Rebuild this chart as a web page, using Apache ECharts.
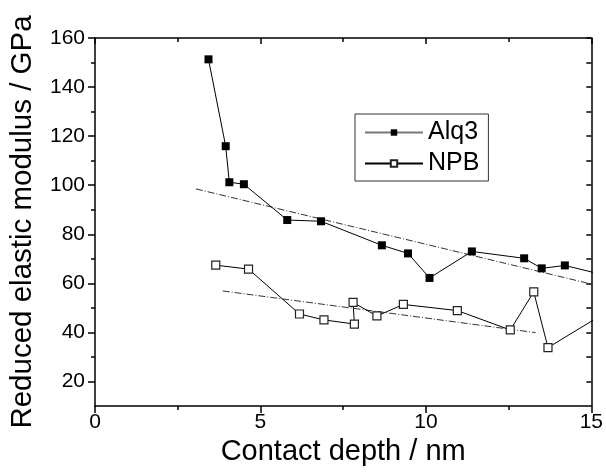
<!DOCTYPE html>
<html>
<head>
<meta charset="utf-8">
<script src="https://cdn.jsdelivr.net/npm/echarts@6/dist/echarts.min.js"></script>
<style>
html,body{margin:0;padding:0;background:#fff;}
#chart{width:606px;height:473px;}
</style>
</head>
<body>
<div id="chart"></div>
<script>
// Data
const alq3Depth = [3.43, 3.95, 4.06, 4.50, 5.81, 6.83, 8.67, 9.46, 10.11, 11.39, 12.97, 13.50, 14.20, 15.5];
const alq3Modulus = [151.3, 115.9, 101.2, 100.4, 85.8, 85.3, 75.5, 72.2, 62.2, 73.0, 70.2, 66.1, 67.3, 63.0];
const npbDepth = [3.65, 4.64, 6.18, 6.92, 7.84, 7.80, 8.52, 9.32, 10.95, 12.55, 13.26, 13.69, 15.3];
const npbModulus = [67.4, 65.8, 47.5, 45.1, 43.4, 52.2, 46.7, 51.4, 48.9, 41.0, 56.5, 33.8, 47.0];
const alq3FitDepth = [3.05, 15.0];
const alq3FitModulus = [98.5, 59.7];
const npbFitDepth = [3.86, 13.32];
const npbFitModulus = [56.9, 39.9];
const seriesNames = ['Alq3', 'NPB'];
const yTickLabels = [20, 40, 60, 80, 100, 120, 140, 160];
const yMinorTicks = [30, 50, 70, 90, 110, 130, 150];
const xTitle = 'Contact depth / nm';
const yTitle = 'Reduced elastic modulus / GPa';

const zip = (a, b) => a.map((v, i) => [v, b[i]]);
const FONT = 'Liberation Sans, Arial, sans-serif';
const axisLineStyle = { color: '#000', width: 1.5 };
const tickLine = { color: '#000', width: 1.5 };

const chart = echarts.init(document.getElementById('chart'), null, { renderer: 'canvas' });
chart.setOption({
  animation: false,
  backgroundColor: '#fff',
  grid: { left: 93, right: 13, top: 38, bottom: 67, containLabel: false },
  legend: {
    data: [
      { name: seriesNames[0], lineStyle: { color: '#777' } },
      { name: seriesNames[1] }
    ],
    orient: 'vertical',
    left: 355,
    top: 114,
    padding: [6, 9, 5, 9],
    itemGap: 6,
    itemWidth: 58,
    itemHeight: 8,
    borderColor: '#333',
    borderWidth: 1,
    textStyle: { fontFamily: FONT, fontSize: 25, color: '#000' }
  },
  xAxis: [{
    type: 'value', min: 0, max: 15, interval: 5,
    name: xTitle, nameLocation: 'middle', nameGap: 31,
    nameTextStyle: { fontFamily: FONT, fontSize: 29, color: '#000' },
    axisLine: { show: true, onZero: false, lineStyle: axisLineStyle },
    axisTick: { show: true, inside: false, length: 7, lineStyle: tickLine },
    minorTick: { show: true, splitNumber: 2, length: 4, lineStyle: tickLine },
    axisLabel: { fontFamily: FONT, fontSize: 21, color: '#000', margin: 6 },
    splitLine: { show: false }
  }, {
    type: 'value', min: 0, max: 15, interval: 5, position: 'top',
    axisLine: { show: true, onZero: false, lineStyle: axisLineStyle },
    axisTick: { show: true, inside: true, length: 6, lineStyle: tickLine },
    minorTick: { show: true, splitNumber: 2, length: 4, lineStyle: tickLine },
    axisLabel: { show: false },
    splitLine: { show: false }
  }],
  yAxis: [{
    type: 'value', min: 10, max: 160, interval: 10,
    name: yTitle, nameLocation: 'middle', nameGap: 57,
    nameTextStyle: { fontFamily: FONT, fontSize: 29.5, color: '#000' },
    axisLine: { show: true, onZero: false, lineStyle: axisLineStyle },
    axisTick: { show: true, inside: false, length: 7, customValues: yTickLabels, lineStyle: tickLine },
    axisLabel: { fontFamily: FONT, fontSize: 21, color: '#000', margin: 10, customValues: yTickLabels },
    splitLine: { show: false }
  }, {
    type: 'value', min: 10, max: 160, interval: 10, position: 'left', offset: 0,
    axisLine: { show: false, onZero: false },
    axisTick: { show: true, inside: false, length: 4, customValues: yMinorTicks, lineStyle: tickLine },
    axisLabel: { show: false },
    splitLine: { show: false }
  }, {
    type: 'value', min: 10, max: 160, interval: 10, position: 'right',
    axisLine: { show: true, onZero: false, lineStyle: axisLineStyle },
    axisTick: { show: true, inside: true, length: 5, customValues: yTickLabels.concat(yMinorTicks), lineStyle: tickLine },
    axisLabel: { show: false },
    splitLine: { show: false }
  }],
  series: [
    {
      name: 'fitAlq3', type: 'line', data: zip(alq3FitDepth, alq3FitModulus),
      showSymbol: false, silent: true, z: 1,
      lineStyle: { color: '#333', width: 1, type: [7, 2, 1, 2] }
    },
    {
      name: 'fitNPB', type: 'line', data: zip(npbFitDepth, npbFitModulus),
      showSymbol: false, silent: true, z: 1,
      lineStyle: { color: '#333', width: 1, type: [7, 2, 1, 2] }
    },
    {
      name: seriesNames[0], type: 'line', data: zip(alq3Depth, alq3Modulus),
      symbol: 'rect', symbolSize: 8, clip: true, z: 3,
      lineStyle: { color: '#000', width: 1 },
      itemStyle: { color: '#000', borderColor: '#000', borderWidth: 0 }
    },
    {
      name: seriesNames[1], type: 'line', data: zip(npbDepth, npbModulus),
      symbol: 'rect', symbolSize: 8, clip: true, z: 3,
      lineStyle: { color: '#000', width: 1 },
      itemStyle: { color: '#fff', borderColor: '#222', borderWidth: 1.2 }
    }
  ]
});
</script>
</body>
</html>
